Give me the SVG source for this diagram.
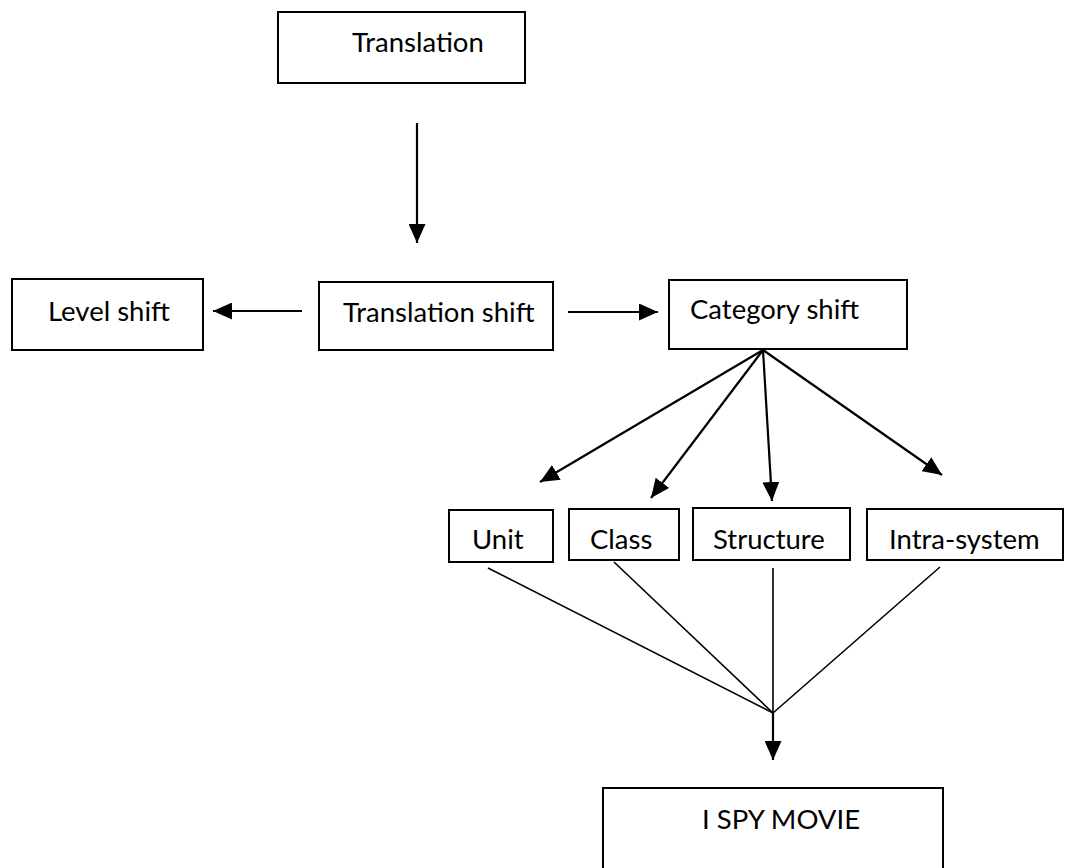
<svg xmlns="http://www.w3.org/2000/svg" width="1065" height="868" viewBox="0 0 1065 868">
<style>
.box{fill:#fff;stroke:#000;stroke-width:2}
.t{font-family:Lato,"Open Sans","Liberation Sans",sans-serif;font-size:27.5px;fill:#000}
.c{stroke:#000;stroke-width:2.2;fill:none}
.thin{stroke:#000;stroke-width:1.6;fill:none}
</style>
<defs>
<marker id="ah2" viewBox="0 0 19 17" refX="19" refY="8.5" markerWidth="19" markerHeight="17" orient="auto" markerUnits="userSpaceOnUse">
<path d="M0,0 L19,8.5 L0,17 Z" fill="#000"/>
</marker>
</defs>
<rect width="1065" height="868" fill="#fff"/>
<g id="connectors">
<line class="c" x1="417" y1="123" x2="417" y2="243" marker-end="url(#ah2)"/>
<line class="c" x1="302" y1="311" x2="213" y2="311" marker-end="url(#ah2)"/>
<line class="c" x1="568" y1="312" x2="658" y2="312" marker-end="url(#ah2)"/>
<line class="c" x1="763" y1="350" x2="540" y2="482" marker-end="url(#ah2)"/>
<line class="c" x1="763" y1="350" x2="651" y2="498" marker-end="url(#ah2)"/>
<line class="c" x1="763" y1="350" x2="772" y2="501" marker-end="url(#ah2)"/>
<line class="c" x1="763" y1="350" x2="942" y2="475" marker-end="url(#ah2)"/>
<line class="thin" x1="488" y1="568" x2="773" y2="713"/>
<line class="thin" x1="614" y1="562" x2="773" y2="713"/>
<line class="thin" x1="773" y1="568" x2="773" y2="713"/>
<line class="thin" x1="940" y1="567" x2="773" y2="713"/>
<line class="c" x1="773" y1="713" x2="773" y2="760" marker-end="url(#ah2)"/>
</g>
<g id="translation">
<rect class="box" x="278" y="12" width="247" height="71"/>
<text class="t" x="352" y="52">Translation</text>
</g>
<g id="level-shift">
<rect class="box" x="12" y="279" width="191" height="71"/>
<text class="t" x="48" y="321">Level shift</text>
</g>
<g id="translation-shift">
<rect class="box" x="319" y="282" width="234" height="68"/>
<text class="t" x="343" y="322">Translation shift</text>
</g>
<g id="category-shift">
<rect class="box" x="669" y="280" width="238" height="69"/>
<text class="t" x="690" y="319">Category shift</text>
</g>
<g id="unit">
<rect class="box" x="449" y="510" width="104" height="52"/>
<text class="t" x="472" y="549">Unit</text>
</g>
<g id="class">
<rect class="box" x="569" y="509" width="110" height="51"/>
<text class="t" x="590" y="549">Class</text>
</g>
<g id="structure">
<rect class="box" x="693" y="508" width="157" height="52"/>
<text class="t" x="713" y="549">Structure</text>
</g>
<g id="intra-system">
<rect class="box" x="867" y="509" width="196" height="51"/>
<text class="t" x="889" y="549">Intra-system</text>
</g>
<g id="i-spy-movie">
<rect class="box" x="603" y="788" width="340" height="90"/>
<text class="t" x="702" y="829">I SPY MOVIE</text>
</g>
</svg>
